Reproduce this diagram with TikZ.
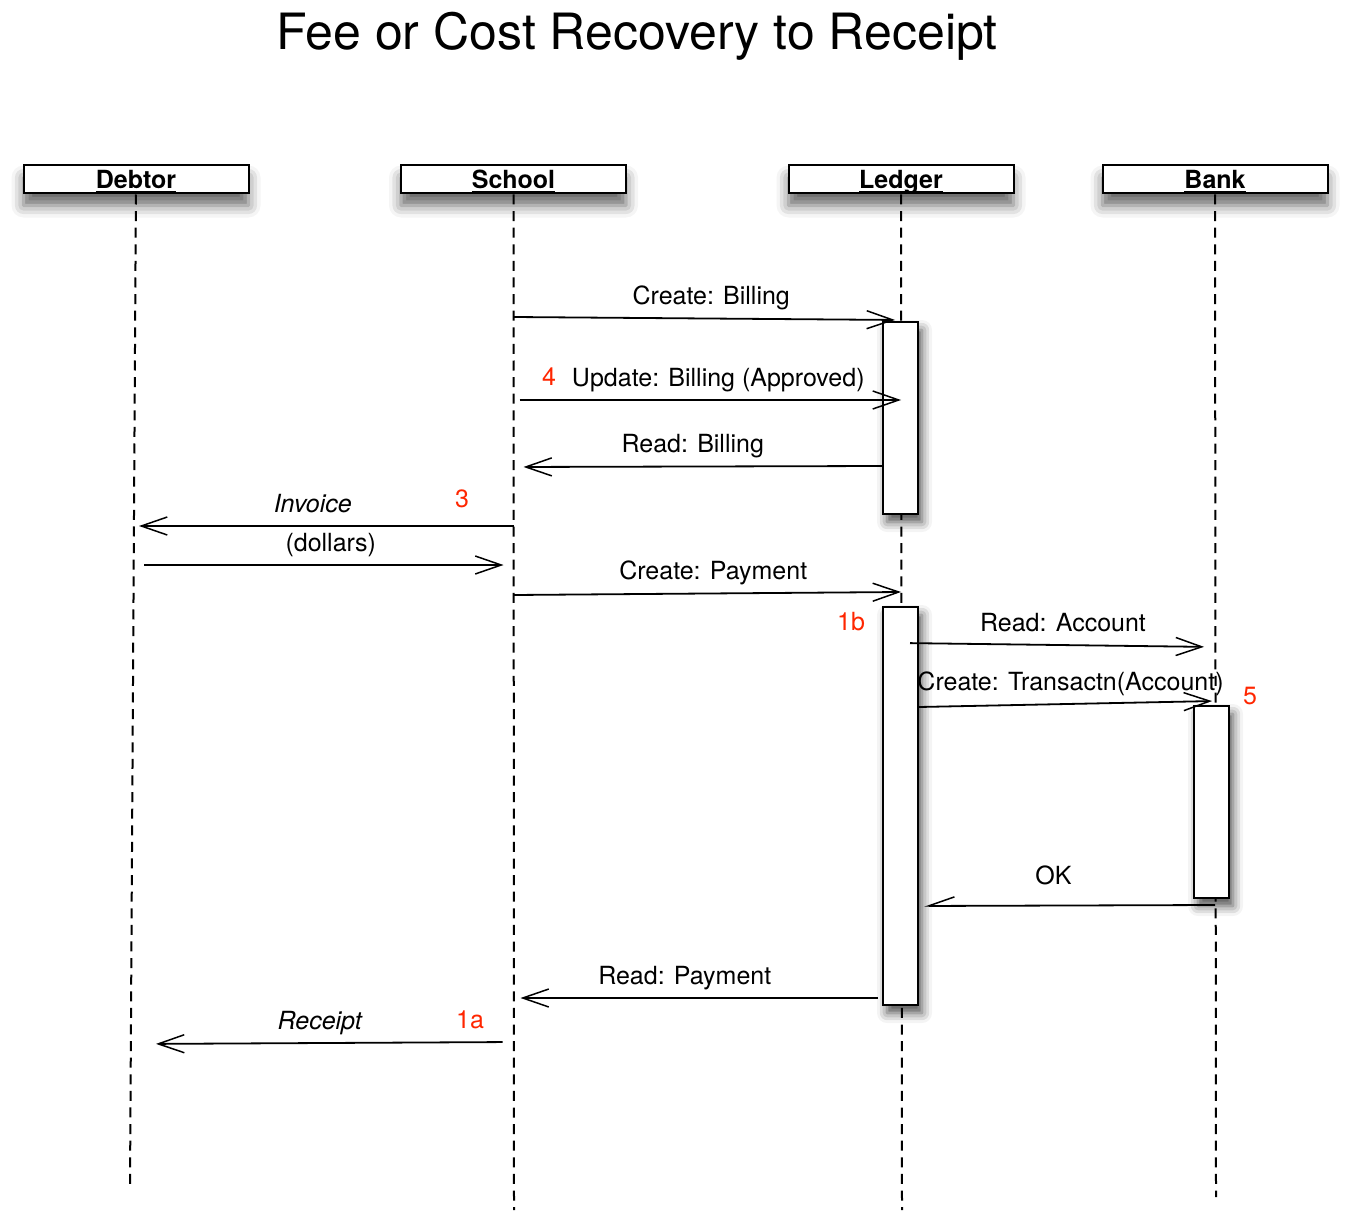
\documentclass[tikz,border=0pt]{standalone}
\usepackage{fontspec}
\setmainfont{TeX Gyre Heros}
\usepackage{xcolor}
\usetikzlibrary{arrows.meta, positioning, shadows, shadows.blur}

\definecolor{stepred}{RGB}{255,38,0}
\newcommand{\actorname}[1]{\setbox0\hbox{\bfseries #1}\rlap{\rule[-2.3pt]{\wd0}{1pt}}\box0}

\begin{document}
\begin{tikzpicture}[
    x=0.5pt, y=-0.5pt,
    actor/.style={draw, line width=1pt, fill=white, minimum width=112.5pt, minimum height=14pt, inner sep=0pt,
        font=\fontsize{12.5}{15}\selectfont, text height=11pt, text depth=2pt,
        blur shadow={shadow xshift=0pt, shadow yshift=-6pt, shadow blur radius=6pt, shadow opacity=60}},
    activation/.style={draw, line width=1pt, fill=white, minimum width=17.5pt, inner sep=0pt,
        blur shadow={shadow xshift=2pt, shadow yshift=-4pt, shadow blur radius=5pt, shadow opacity=70}},
    lifeline/.style={line width=1pt, dash pattern=on 5pt off 3.3pt},
    msg/.style={line width=0.9pt, -{Straight Barb[length=13pt, width=9pt, line width=0.75pt]}},
    lbl/.style={font=\fontsize{12.5}{15}\selectfont, text height=9.5pt, text depth=2.7pt, above, yshift=0.5pt},
    stepno/.style={font=\fontsize{12.5}{15}\selectfont, text=stepred}
]
    \useasboundingbox (0,0) rectangle (1349,1214);

    % Title
    \node[font=\fontsize{25}{30}\selectfont] (title) at (637,36) {Fee or Cost Recovery to Receipt};

    % Actors
    \node[actor] (debtor) at (136,179.5) {\actorname{Debtor}};
    \node[actor] (school) at (513.5,179.5) {\actorname{School}};
    \node[actor] (ledger) at (901,179.5) {\actorname{Ledger}};
    \node[actor] (bank) at (1215,179.5) {\actorname{Bank}};

    % Lifelines
    \coordinate (debtorEnd) at (130,1187);
    \coordinate (schoolEnd) at (514,1210);
    \coordinate (ledgerEnd) at (902,1210);
    \coordinate (bankEnd) at (1216,1197);
    \draw[lifeline] (debtor) -- (debtorEnd);
    \draw[lifeline] (school) -- (schoolEnd);
    \draw[lifeline] (ledger) -- (ledgerEnd);
    \draw[lifeline] (bank) -- (bankEnd);

    % Activations
    \node[activation, minimum height=96pt] (billingAct) at (900.5,418) {};
    \node[activation, minimum height=199pt] (paymentAct) at (900.5,806) {};
    \node[activation, minimum height=96pt] (bankAct) at (1211.5,802) {};

    % Messages
    \draw[msg, shorten >=3pt] (school |- 0,317) -- (ledger |- 0,320)
        node[lbl, midway, xshift=2pt] {Create: Billing};
    \draw[msg, shorten <=3pt] (school |- 0,400) -- (ledger |- 0,400)
        node[lbl, midway, xshift=5.5pt] {Update: Billing (Approved)};
    \draw[msg, shorten >=5pt] (billingAct.west |- 0,466) -- (school |- 0,467)
        node[lbl, midway, xshift=-2.5pt] {Read: Billing};
    \draw[msg, shorten >=1.5pt] (school |- 0,526) -- (debtor |- 0,526)
        node[lbl, midway, xshift=-6pt] {\itshape Invoice};
    \draw[msg, shorten <=4pt, shorten >=5pt] (debtor |- 0,565) -- (school |- 0,565)
        node[lbl, midway, xshift=3pt] {(dollars)};
    \draw[msg] (school |- 0,595) -- (ledger |- 0,592)
        node[lbl, midway, xshift=3pt] {Create: Payment};
    \draw[msg, shorten <=4.5pt, shorten >=5.5pt] (ledger |- 0,643) -- (bank |- 0,647)
        node[lbl, midway, xshift=2.5pt] {Read: Account};
    \draw[msg, shorten >=1.5pt] (paymentAct.east |- 0,707) -- (bank |- 0,701)
        node[lbl, midway, xshift=1.75pt] {Create: Transactn(Account)};
    \draw[line width=0.9pt, -{Straight Barb[length=13pt, width=9pt, line width=0.75pt, harpoon, swap]}, shorten >=2.5pt]
        (bank |- 0,905) -- (paymentAct.east |- 0,906)
        node[lbl, midway, xshift=-6.75pt, yshift=3.5pt] {OK};
    \draw[msg, shorten <=2pt, shorten >=3.5pt] (paymentAct.west |- 0,998) -- (school |- 0,998)
        node[lbl, midway, xshift=-6.5pt] {Read: Payment};
    \draw[msg, shorten <=5.5pt, shorten >=10pt] (school |- 0,1042) -- (debtor |- 0,1044)
        node[lbl, midway, xshift=-2.5pt] {\itshape Receipt};

    % Step numbers
    \node[stepno] (step4) at (549,377) {4};
    \node[stepno] (step3) at (462,499) {3};
    \node[stepno] (step1b) at (851,622) {1b};
    \node[stepno] (step5) at (1250,696) {5};
    \node[stepno] (step1a) at (470,1020) {1a};

\end{tikzpicture}
\end{document}
